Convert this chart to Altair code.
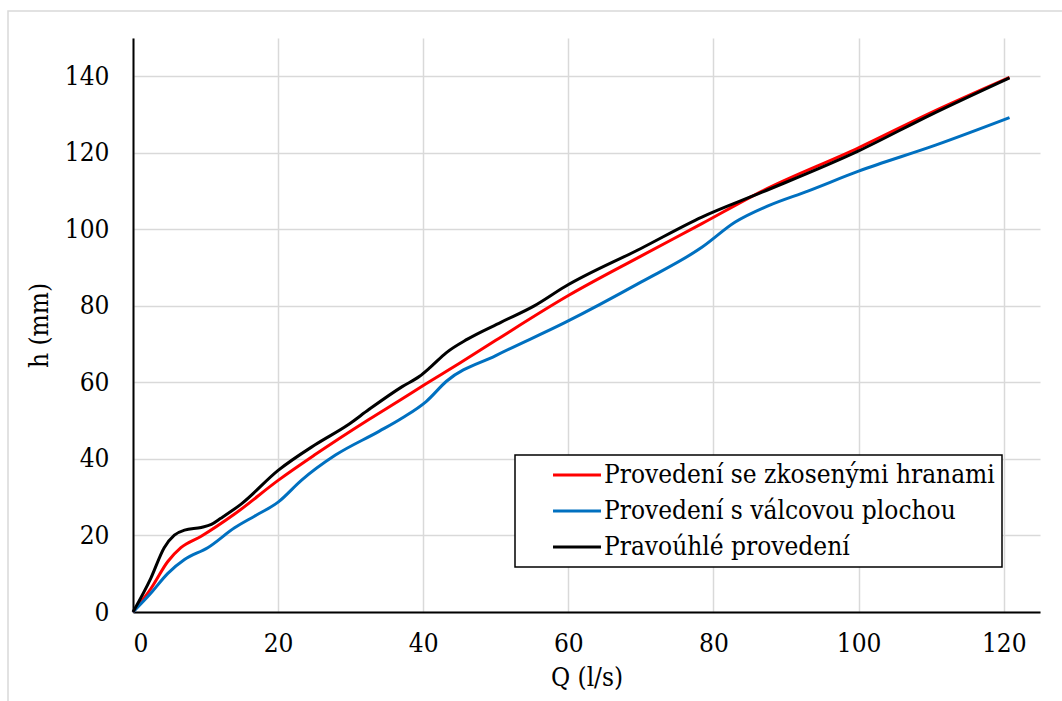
import altair as alt
import pandas as pd

# --- data ---
names = ["Provedení se zkosenými hranami", "Provedení s válcovou plochou", "Pravoúhlé provedení"]
colors = ["#FF0000", "#0070C0", "#000000"]

red_q = [0, 2.5, 4.8, 6.6, 9.4, 14, 20, 25, 32.5, 37, 40, 45, 50, 60, 70, 78.4, 86.7, 100, 110, 120.8]
red_h = [0, 6.2, 13.2, 16.8, 19.8, 25.6, 34.4, 41, 50.3, 55.6, 59.2, 65, 71, 82.7, 93, 101.5, 110, 121.3, 130.5, 139.7]

blue_q = [0, 2.45, 4.8, 7.1, 10.3, 14, 16.8, 20, 23.2, 27.9, 33.9, 37.1, 40.4, 43.2, 50, 59.5, 70, 78.4, 83, 87.6, 93, 100, 110.6, 120.8]
blue_h = [0, 4.9, 10.1, 13.7, 16.8, 22, 25.1, 28.7, 34.4, 41, 47.2, 50.7, 55, 60.3, 67, 75.6, 86.2, 95.3, 101.9, 106.2, 110, 115.2, 122, 129.2]

black_q = [0, 2.45, 4.3, 5.7, 7.1, 9.4, 10.8, 12.1, 14.9, 20, 25.1, 29.7, 32.5, 37.1, 39.5, 41, 43.2, 46.1, 50.7, 55.3, 59.5, 70, 78.4, 86.7, 100, 110, 120.8]
black_h = [0, 8.8, 16.8, 20.1, 21.4, 22.1, 22.9, 24.5, 28.2, 37.0, 43.7, 49.0, 52.9, 58.9, 61.6, 64, 67.8, 71.3, 75.7, 80, 85, 95, 103.2, 109.7, 120.5, 130, 139.6]

x_ticks = [0, 20, 40, 60, 80, 100, 120]
y_ticks = [0, 20, 40, 60, 80, 100, 120, 140]

rows = []
for order, (nm, qs, hs) in enumerate(zip(names, [red_q, blue_q, black_q], [red_h, blue_h, black_h])):
    for q, h in zip(qs, hs):
        rows.append({"series": nm, "Q": q, "h": h, "o": order})
df = pd.DataFrame(rows)

FONT = "DejaVu Serif Condensed, DejaVu Serif"
FS = 26

border = alt.Chart(pd.DataFrame({"a": [0]})).mark_rect(
    fill="white", fillOpacity=0, stroke="#d9d9d9", strokeWidth=1.5
).encode(
    x=alt.value(-125), x2=alt.value(940), y=alt.value(-27), y2=alt.value(680)
)

lines = alt.Chart(df).mark_line(strokeWidth=3, interpolate="monotone").encode(
    x=alt.X("Q:Q",
            scale=alt.Scale(domain=[0, 125], nice=False, zero=False),
            axis=alt.Axis(values=x_ticks, title="Q (l/s)", labelPadding=18, titlePadding=8)),
    y=alt.Y("h:Q",
            scale=alt.Scale(domain=[0, 150], nice=False),
            axis=alt.Axis(values=y_ticks, title="h (mm)", labelPadding=24, titlePadding=12)),
    color=alt.Color("series:N",
                    scale=alt.Scale(domain=names, range=colors),
                    legend=alt.Legend(
                        title=None, orient="none", legendX=382, legendY=417,
                        strokeColor="black", fillColor="white", padding=7,
                        rowPadding=10, symbolType="M-5,0H5", symbolSize=92,
                        symbolStrokeWidth=3, symbolOffset=42, labelOffset=14,
                        labelFontSize=FS, labelColor="black",
                        labelLimit=600)),
    detail="series:N",
    order="o:Q",
)

chart = alt.layer(border, lines).properties(
    width=907, height=574,
    autosize=alt.AutoSizeParams(type="none"),
    padding={"left": 133, "top": 38, "right": 22, "bottom": 89},
    background="white",
).configure(font=FONT).configure_view(stroke=None).configure_axis(
    labelFontSize=FS, labelColor="black",
    titleFontSize=FS, titleColor="black", titleFontWeight="normal",
    grid=True, gridColor="#d9d9d9", gridWidth=1.5,
    domainColor="black", domainWidth=2, ticks=False,
).configure_legend(strokeWidth=1.5)

chart.save("out.html", embed_options={"renderer": "svg", "actions": False})
